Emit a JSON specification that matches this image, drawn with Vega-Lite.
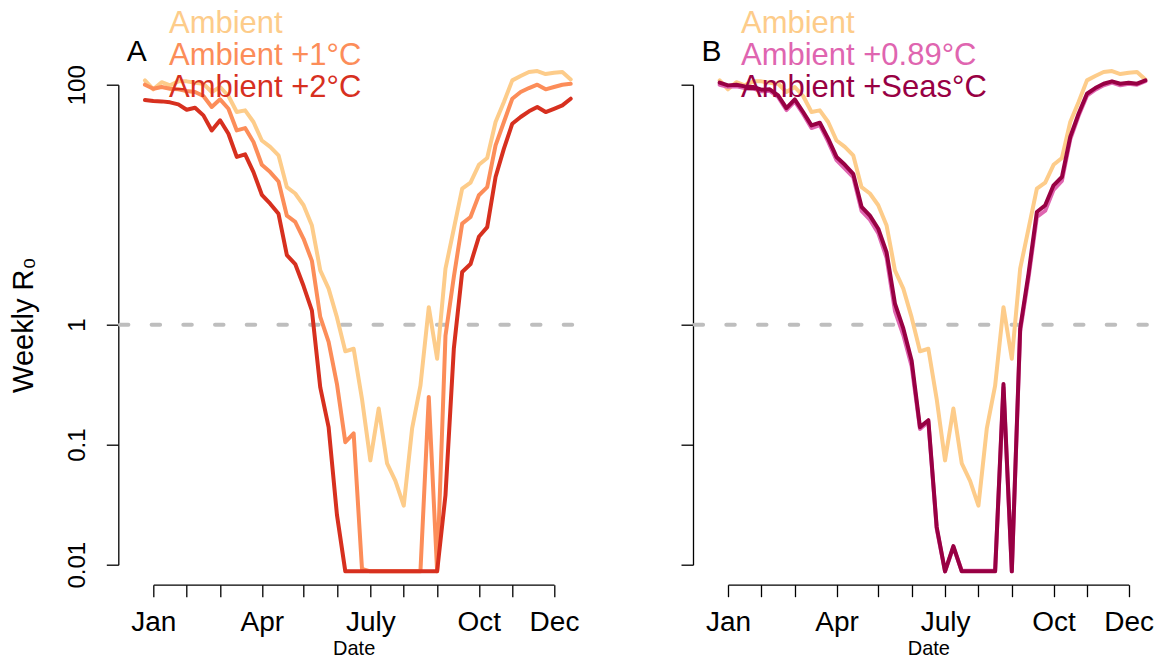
{
  "$schema": "https://vega.github.io/schema/vega-lite/v6.json",
  "background": "white",
  "padding": {"left": 9.3, "top": 11.7, "right": 5, "bottom": 5},
  "config": {
    "view": {"stroke": null},
    "font": "Liberation Sans",
    "axis": {
      "grid": false,
      "domainColor": "black",
      "tickColor": "black",
      "domainWidth": 1.3,
      "tickWidth": 1.3,
      "tickSize": 12,
      "labelColor": "black",
      "titleColor": "black",
      "labelFont": "Liberation Sans",
      "titleFont": "Liberation Sans",
      "titleFontWeight": "normal",
      "labelOverlap": false,
      "labelFlush": false,
      "labelBound": false
    },
    "legend": {
      "orient": "none",
      "title": null,
      "symbolOpacity": 0,
      "symbolSize": 0,
      "symbolStrokeWidth": 0,
      "labelOffset": 0,
      "labelFontSize": 31,
      "labelFont": "Liberation Sans",
      "labelLimit": 500,
      "padding": 0
    },
    "title": {
      "font": "Liberation Sans",
      "fontSize": 30,
      "fontWeight": "normal",
      "color": "black",
      "anchor": "start",
      "frame": "group",
      "baseline": "alphabetic",
      "offset": -55,
      "dx": -26.6
    }
  },
  "datasets": {
    "r0": [
      {"week": 0, "amb": 108.6, "p1": 100, "p2": 74.5, "p089": 100, "seas": 104},
      {"week": 1, "amb": 91.5, "p1": 92.6, "p2": 73, "p089": 96, "seas": 98.7},
      {"week": 2, "amb": 105, "p1": 95.7, "p2": 72.6, "p089": 97, "seas": 100},
      {"week": 3, "amb": 98.7, "p1": 92.6, "p2": 71.3, "p089": 94, "seas": 96.8},
      {"week": 4, "amb": 106.6, "p1": 91.5, "p2": 68.6, "p089": 93, "seas": 95.7},
      {"week": 5, "amb": 106.6, "p1": 88.5, "p2": 61.9, "p089": 88, "seas": 90.9},
      {"week": 6, "amb": 103.9, "p1": 86.9, "p2": 64.3, "p089": 89, "seas": 91.5},
      {"week": 7, "amb": 101.9, "p1": 80.5, "p2": 55.5, "p089": 79, "seas": 81.5},
      {"week": 8, "amb": 86.9, "p1": 65.2, "p2": 41.6, "p089": 61.5, "seas": 63.9},
      {"week": 9, "amb": 95.7, "p1": 75.5, "p2": 50.5, "p089": 72.5, "seas": 75.5},
      {"week": 10, "amb": 80.5, "p1": 63, "p2": 39, "p089": 57, "seas": 59.2},
      {"week": 11, "amb": 59.2, "p1": 41.6, "p2": 25, "p089": 43.5, "seas": 45.8},
      {"week": 12, "amb": 61.1, "p1": 43.5, "p2": 26.3, "p089": 46, "seas": 48.2},
      {"week": 13, "amb": 48.9, "p1": 33.3, "p2": 18.7, "p089": 33.5, "seas": 35.5},
      {"week": 14, "amb": 34.3, "p1": 21.5, "p2": 12.1, "p089": 23.5, "seas": 25},
      {"week": 15, "amb": 30.3, "p1": 18.7, "p2": 10.2, "p089": 20, "seas": 21.5},
      {"week": 16, "amb": 25.8, "p1": 15.6, "p2": 8.4, "p089": 17, "seas": 18.1},
      {"week": 17, "amb": 14, "p1": 8.1, "p2": 3.8, "p089": 8.9, "seas": 9.6},
      {"week": 18, "amb": 12.4, "p1": 7.2, "p2": 3.2, "p089": 7.5, "seas": 8.1},
      {"week": 19, "amb": 9.9, "p1": 5.2, "p2": 2.1, "p089": 5.8, "seas": 6.3},
      {"week": 20, "amb": 6.7, "p1": 3.4, "p2": 1.31, "p089": 3.6, "seas": 4.0},
      {"week": 21, "amb": 2.84, "p1": 1.16, "p2": 0.30, "p089": 1.3, "seas": 1.5},
      {"week": 22, "amb": 2.0, "p1": 0.72, "p2": 0.14, "p089": 0.82, "seas": 0.93},
      {"week": 23, "amb": 1.15, "p1": 0.32, "p2": 0.026, "p089": 0.45, "seas": 0.50},
      {"week": 24, "amb": 0.60, "p1": 0.105, "p2": 0.0088, "p089": 0.135, "seas": 0.14},
      {"week": 25, "amb": 0.63, "p1": 0.124, "p2": 0.0088, "p089": 0.155, "seas": 0.16},
      {"week": 26, "amb": 0.24, "p1": 0.0092, "p2": 0.0088, "p089": 0.02, "seas": 0.0206},
      {"week": 27, "amb": 0.074, "p1": 0.0088, "p2": 0.0088, "p089": 0.0088, "seas": 0.0088},
      {"week": 28, "amb": 0.2, "p1": 0.0088, "p2": 0.0088, "p089": 0.014, "seas": 0.0143},
      {"week": 29, "amb": 0.070, "p1": 0.0088, "p2": 0.0088, "p089": 0.0089, "seas": 0.0088},
      {"week": 30, "amb": 0.05, "p1": 0.0088, "p2": 0.0088, "p089": 0.0089, "seas": 0.0088},
      {"week": 31, "amb": 0.031, "p1": 0.0088, "p2": 0.0088, "p089": 0.0089, "seas": 0.0088},
      {"week": 32, "amb": 0.136, "p1": 0.0088, "p2": 0.0088, "p089": 0.0089, "seas": 0.0088},
      {"week": 33, "amb": 0.31, "p1": 0.0088, "p2": 0.0088, "p089": 0.0089, "seas": 0.0088},
      {"week": 34, "amb": 1.40, "p1": 0.25, "p2": 0.0088, "p089": 0.3, "seas": 0.32},
      {"week": 35, "amb": 0.52, "p1": 0.0088, "p2": 0.0088, "p089": 0.0088, "seas": 0.0088},
      {"week": 36, "amb": 2.93, "p1": 0.81, "p2": 0.038, "p089": 0.88, "seas": 0.93},
      {"week": 37, "amb": 6.3, "p1": 2.5, "p2": 0.63, "p089": 2.45, "seas": 2.66},
      {"week": 38, "amb": 13.6, "p1": 6.95, "p2": 2.75, "p089": 7.9, "seas": 8.7},
      {"week": 39, "amb": 15.3, "p1": 7.9, "p2": 3.2, "p089": 8.9, "seas": 9.9},
      {"week": 40, "amb": 21.5, "p1": 12, "p2": 5.4, "p089": 13.3, "seas": 14.5},
      {"week": 41, "amb": 24.5, "p1": 14, "p2": 6.5, "p089": 15.8, "seas": 17},
      {"week": 42, "amb": 48.9, "p1": 31.2, "p2": 17, "p089": 35, "seas": 36.7},
      {"week": 43, "amb": 71.7, "p1": 48.9, "p2": 29.3, "p089": 55, "seas": 57.3},
      {"week": 44, "amb": 108.6, "p1": 76.4, "p2": 47.3, "p089": 81, "seas": 84.1},
      {"week": 45, "amb": 118, "p1": 86.9, "p2": 53.8, "p089": 91, "seas": 93.8},
      {"week": 46, "amb": 127.5, "p1": 93.8, "p2": 60, "p089": 99, "seas": 101.9},
      {"week": 47, "amb": 130, "p1": 100, "p2": 65.2, "p089": 104, "seas": 106.6},
      {"week": 48, "amb": 122.7, "p1": 91.5, "p2": 59.2, "p089": 99, "seas": 101.9},
      {"week": 49, "amb": 126, "p1": 95.7, "p2": 63, "p089": 102, "seas": 104},
      {"week": 50, "amb": 127.5, "p1": 100, "p2": 67.3, "p089": 100, "seas": 101.9},
      {"week": 51, "amb": 110.7, "p1": 101.9, "p2": 76.4, "p089": 107, "seas": 108.6}
    ],
    "threshold": [{"R0": 1}]
  },
  "bounds": "flush",
  "spacing": 173.7,
  "resolve": {"scale": {"color": "independent"}},
  "hconcat": [
    {
      "width": 400.7,
      "height": 480,
      "title": {"text": "A"},
      "layer": [
        {
          "data": {"name": "threshold"},
          "mark": {"type": "rule", "color": "#bebebe", "strokeWidth": 4, "strokeDash": [8.5, 23.2], "strokeCap": "round"},
          "encoding": {
            "x": {"datum": -3.0, "type": "quantitative"},
            "x2": {"datum": 53.2},
            "y": {"field": "R0", "type": "quantitative"}
          }
        },
        {
          "data": {"name": "r0"},
          "transform": [{"fold": ["amb", "p1", "p2"], "as": ["series", "R0"]}],
          "mark": {"type": "line", "strokeWidth": 4, "strokeJoin": "round", "strokeCap": "round", "clip": false},
          "encoding": {
            "x": {
              "field": "week", "type": "quantitative",
              "scale": {"domain": [1, 49], "nice": false, "zero": false},
              "axis": {
                "values": [1, 5, 9, 14, 19, 23, 27, 31, 35, 40, 44, 49],
                "tickCount": 30,
                "labelExpr": "datum.value == 1 ? 'Jan' : datum.value == 14 ? 'Apr' : datum.value == 27 ? 'July' : datum.value == 40 ? 'Oct' : datum.value == 49 ? 'Dec' : ''",
                "labelOverlap": false,
                "labelFlush": false,
                "offset": 20,
                "labelFontSize": 28,
                "labelBaseline": "alphabetic",
                "labelPadding": 33.7,
                "title": "Date",
                "titleFontSize": 20,
                "titleBaseline": "alphabetic",
                "titleX": 200.35,
                "titleY": 70
              }
            },
            "y": {
              "field": "R0", "type": "quantitative",
              "scale": {"type": "log", "domain": [0.01, 100], "nice": false},
              "axis": {
                "values": [0.01, 0.1, 1, 100],
                "tickCount": 30,
                "labelExpr": "datum.value < 0.05 ? '0.01' : datum.value < 0.5 ? '0.1' : datum.value < 5 ? '1' : '100'",
                "labelOverlap": false,
                "offset": 35,
                "labelFontSize": 24,
                "labelAngle": -90,
                "labelAlign": "center",
                "labelBaseline": "alphabetic",
                "labelPadding": 22,
                "title": "Weekly R₀",
                "titleFontSize": 29,
                "titleAngle": -90,
                "titleAlign": "center",
                "titleBaseline": "alphabetic",
                "titleX": -86,
                "titleY": 240
              }
            },
            "color": {
              "field": "series", "type": "nominal",
              "scale": {"domain": ["amb", "p1", "p2"], "range": ["#fdcc8a", "#fc8d59", "#d7301f"]},
              "legend": {
                "legendX": -15.3,
                "legendY": -72.6,
                "clipHeight": 23.7,
                "rowPadding": 0,
                "labelExpr": "datum.value == 'amb' ? 'Ambient' : datum.value == 'p1' ? 'Ambient +1°C' : 'Ambient +2°C'",
                "encode": {"labels": {"update": {"fill": {"signal": "datum.value == 'amb' ? '#fdcc8a' : datum.value == 'p1' ? '#fc8d59' : '#d7301f'"}}}}
              }
            }
          }
        }
      ]
    },
    {
      "width": 400.7,
      "height": 480,
      "title": {"text": "B"},
      "layer": [
        {
          "data": {"name": "threshold"},
          "mark": {"type": "rule", "color": "#bebebe", "strokeWidth": 4, "strokeDash": [8.5, 23.2], "strokeCap": "round"},
          "encoding": {
            "x": {"datum": -3.0, "type": "quantitative"},
            "x2": {"datum": 53.2},
            "y": {"field": "R0", "type": "quantitative"}
          }
        },
        {
          "data": {"name": "r0"},
          "transform": [{"fold": ["amb", "p089", "seas"], "as": ["series", "R0"]}],
          "mark": {"type": "line", "strokeWidth": 4, "strokeJoin": "round", "strokeCap": "round", "clip": false},
          "encoding": {
            "x": {
              "field": "week", "type": "quantitative",
              "scale": {"domain": [1, 49], "nice": false, "zero": false},
              "axis": {
                "values": [1, 5, 9, 14, 19, 23, 27, 31, 35, 40, 44, 49],
                "tickCount": 30,
                "labelExpr": "datum.value == 1 ? 'Jan' : datum.value == 14 ? 'Apr' : datum.value == 27 ? 'July' : datum.value == 40 ? 'Oct' : datum.value == 49 ? 'Dec' : ''",
                "labelOverlap": false,
                "labelFlush": false,
                "offset": 20,
                "labelFontSize": 28,
                "labelBaseline": "alphabetic",
                "labelPadding": 33.7,
                "title": "Date",
                "titleFontSize": 20,
                "titleBaseline": "alphabetic",
                "titleX": 200.35,
                "titleY": 70
              }
            },
            "y": {
              "field": "R0", "type": "quantitative",
              "scale": {"type": "log", "domain": [0.01, 100], "nice": false},
              "axis": {
                "values": [0.01, 0.1, 1, 100],
                "tickCount": 30,
                "labels": false,
                "offset": 35,
                "title": null
              }
            },
            "color": {
              "field": "series", "type": "nominal",
              "scale": {"domain": ["amb", "p089", "seas"], "range": ["#fdcc8a", "#df65b0", "#980043"]},
              "legend": {
                "legendX": -18,
                "legendY": -72.6,
                "clipHeight": 23.7,
                "rowPadding": 0,
                "labelExpr": "datum.value == 'amb' ? 'Ambient' : datum.value == 'p089' ? 'Ambient +0.89°C' : 'Ambient +Seas°C'",
                "encode": {"labels": {"update": {"fill": {"signal": "datum.value == 'amb' ? '#fdcc8a' : datum.value == 'p089' ? '#df65b0' : '#980043'"}}}}
              }
            }
          }
        }
      ]
    }
  ]
}
